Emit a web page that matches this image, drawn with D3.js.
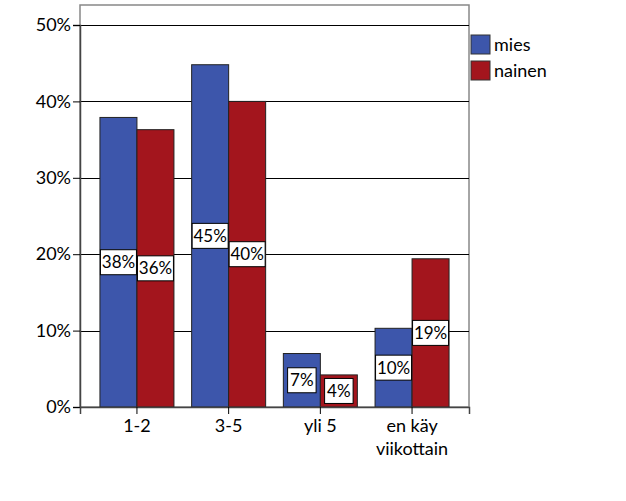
<!DOCTYPE html>
<html><head><meta charset="utf-8">
<script src="https://cdn.jsdelivr.net/npm/d3@7"></script>
<style>body{margin:0;background:#fff}svg text{font-family:Lato,"Open Sans",sans-serif}</style>
</head><body>
<svg id="c" width="626" height="501"></svg>
<script>
const categories = [["1-2"],["3-5"],["yli 5"],["en käy","viikottain"]];
const series = ["mies","nainen"];
const mies = [37.9, 44.8, 7.0, 10.3];
const nainen = [36.3, 40.0, 4.2, 19.4];
const labelsMies = ["38%","45%","7%","10%"];
const labelsNainen = ["36%","40%","4%","19%"];
const yTicks = [0,10,20,30,40,50];
const colors = ["#3d56ab","#a3151d"];

const svg = d3.select("#c");
const L=80,R=469,T=5,B=407;
const keys = categories.map((c,i)=>"c"+i);
const x = d3.scaleBand().domain(keys).range([L,R]).paddingInner(0.193).paddingOuter(0.2175);
const xs = d3.scaleBand().domain(series).range([0,x.bandwidth()]);
const y = d3.scaleLinear().domain([0,50]).range([B,25]);

svg.append("rect").attr("x",L).attr("y",T).attr("width",R-L).attr("height",B-T)
  .attr("fill","#fff").attr("stroke","#888").attr("stroke-width",1.5);
svg.append("g").selectAll("line").data(yTicks.filter(d=>d>0)).join("line")
  .attr("x1",L).attr("x2",R).attr("y1",d=>Math.round(y(d))+0.5).attr("y2",d=>Math.round(y(d))+0.5)
  .attr("stroke","#000").attr("stroke-width",1);

const data = keys.map((k,i)=>({k,vals:[mies[i],nainen[i]],labs:[labelsMies[i],labelsNainen[i]]}));
const g = svg.append("g").selectAll("g").data(data).join("g").attr("transform",d=>`translate(${x(d.k)},0)`);
g.selectAll("rect").data(d=>d.vals.map((v,j)=>({v,s:series[j],j}))).join("rect")
  .attr("x",d=>xs(d.s)).attr("y",d=>y(d.v)).attr("width",xs.bandwidth()).attr("height",d=>B-y(d.v))
  .attr("fill",d=>colors[d.j]).attr("stroke","#222").attr("stroke-width",1);

const lab = g.selectAll("g.lab").data(d=>d.vals.map((v,j)=>({v,s:series[j],t:d.labs[j]}))).join("g").attr("class","lab")
  .attr("transform",d=>`translate(${xs(d.s)+xs.bandwidth()/2},${y(d.v/2)})`);
lab.each(function(d){
  const gg=d3.select(this);
  const t=gg.append("text").attr("text-anchor","middle").attr("dy","0.36em").attr("font-size",17).text(d.t);
  const w=Math.min(t.node().getComputedTextLength()+5, xs.bandwidth()-1);
  gg.insert("rect","text").attr("x",-w/2).attr("y",-12.5).attr("width",w).attr("height",25)
    .attr("fill","#fff").attr("stroke","#000").attr("stroke-width",1);
});

const ya = svg.append("g").attr("transform",`translate(${L},0)`)
  .call(d3.axisLeft(y).tickValues(yTicks).tickFormat(d=>d+"%").tickSize(7).tickPadding(2));
ya.select(".domain").attr("stroke","#444").attr("stroke-width",1.5);
ya.selectAll("line").attr("stroke","#000");
ya.selectAll("text").attr("font-size",18).attr("fill","#000").style("font-family","Lato,'Open Sans',sans-serif");

const xa = svg.append("g").attr("transform",`translate(0,${B})`)
  .call(d3.axisBottom(x).tickSize(7).tickFormat(""));
xa.select(".domain").attr("stroke","#444").attr("stroke-width",1.5);
xa.selectAll("line").attr("stroke","#000");
xa.selectAll(".tick").each(function(k,i){
  const t=d3.select(this).append("text").attr("fill","#000").attr("font-size",18).attr("text-anchor","middle").attr("y",25);
  categories[i].forEach((s,j)=>t.append("tspan").attr("x",0).attr("dy",j?23:0).text(s));
});

const lg = svg.append("g").selectAll("g").data(series).join("g").attr("transform",(d,i)=>`translate(471,${35+i*26})`);
lg.append("rect").attr("width",19).attr("height",19).attr("fill",(d,i)=>colors[i]).attr("stroke","#333");
lg.append("text").attr("x",23).attr("y",16).attr("font-size",18).text(d=>d);
</script>
</body></html>
